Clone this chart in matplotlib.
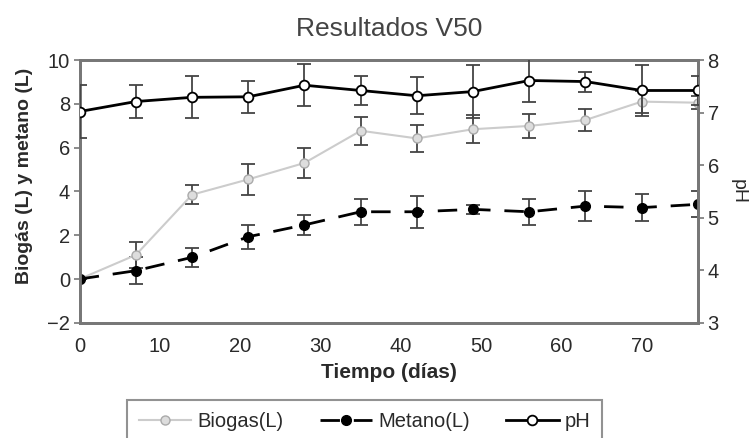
import matplotlib
matplotlib.use("Agg")
import matplotlib.pyplot as plt
from matplotlib.lines import Line2D

plt.rcParams['font.family'] = ['Liberation Sans', 'DejaVu Sans']

# days of sampling
dias = [0, 7, 14, 21, 28, 35, 42, 49, 56, 63, 70, 77]

# biogas (L) and its error
biogas = [0.0, 1.1, 3.85, 4.55, 5.3, 6.77, 6.42, 6.84, 6.99, 7.26, 8.1, 8.05]
biogas_err = [0.0, 0.6, 0.44, 0.72, 0.7, 0.64, 0.6, 0.63, 0.53, 0.5, 0.5, 0.3]

# metano (L) and its error
metano = [0.0, 0.38, 0.99, 1.93, 2.47, 3.07, 3.07, 3.18, 3.07, 3.33, 3.26, 3.41]
metano_err = [0.0, 0.62, 0.42, 0.55, 0.44, 0.59, 0.72, 0.2, 0.6, 0.7, 0.6, 0.6]

# pH and its error
ph = [7.02, 7.21, 7.29, 7.30, 7.52, 7.42, 7.32, 7.40, 7.61, 7.59, 7.42, 7.42]
ph_err = [0.5, 0.31, 0.4, 0.3, 0.4, 0.28, 0.35, 0.5, 0.4, 0.19, 0.48, 0.28]

fig = plt.figure(figsize=(7.52, 4.38), dpi=100)
ax = fig.add_axes([0.106, 0.263, 0.822, 0.6])
ax2 = ax.twinx()

err_col = '#444444'
frame_col = '#777777'
txt_col = '#2a2a2a'

bio_style = dict(color='#cccccc', lw=1.5, marker='o', ms=6.5, mfc='#dddddd', mec='#aaaaaa')
met_style = dict(color='black', lw=2, dashes=(7, 5), marker='o', ms=7, mfc='black', mec='black')
ph_style = dict(color='black', lw=2, marker='o', ms=7, mfc='white', mec='black', mew=1.3)
err_kw = dict(ecolor=err_col, elinewidth=1.3, capsize=5, capthick=1.3, zorder=3)

ax.errorbar(dias, biogas, yerr=biogas_err, **bio_style, **err_kw)
ax.errorbar(dias, metano, yerr=metano_err, **met_style, **err_kw)
ax2.errorbar(dias, ph, yerr=ph_err, **ph_style, **err_kw)

ax.set_xlim(0, 77)
ax.set_ylim(-2, 10)
ax2.set_ylim(3, 8)
ax.set_xticks(range(0, 80, 10))
ax.set_yticks(range(-2, 11, 2))
ax2.set_yticks(range(3, 9))

for a in (ax, ax2):
    for s in a.spines.values():
        s.set_color(frame_col)
        s.set_linewidth(2)
    a.tick_params(colors=frame_col, labelcolor=txt_col, labelsize=14.5,
                  length=4, width=1.2, pad=3)
ax.tick_params(axis='x', length=0, pad=10)

ax.set_xlabel('Tiempo (días)', fontsize=15, fontweight='bold', color=txt_col, labelpad=5)
ax.set_ylabel('Biogás (L) y metano (L)', fontsize=14, fontweight='bold', color=txt_col)
ax.yaxis.set_label_coords(-0.089, 0.56)
ax.yaxis.label.set_va('center')
ax2.set_ylabel('pH', fontsize=14, color=txt_col, rotation=270, labelpad=20)
ax.set_title('Resultados V50', fontsize=19, color='#444444', pad=17)

handles = [Line2D([], [], **bio_style), Line2D([], [], **met_style), Line2D([], [], **ph_style)]
labels = ['Biogas(L)', 'Metano(L)', 'pH']
leg = fig.legend(handles, labels, loc='upper center', bbox_to_anchor=(0.485, 0.11),
                 ncol=3, fontsize=14.5, frameon=True, fancybox=False,
                 handlelength=2.6, handletextpad=0.3, columnspacing=1.8, borderpad=0.6)
leg.get_frame().set_edgecolor(frame_col)
leg.get_frame().set_linewidth(1.5)
for t in leg.get_texts():
    t.set_color(txt_col)

fig.savefig('out.png', dpi=100)
